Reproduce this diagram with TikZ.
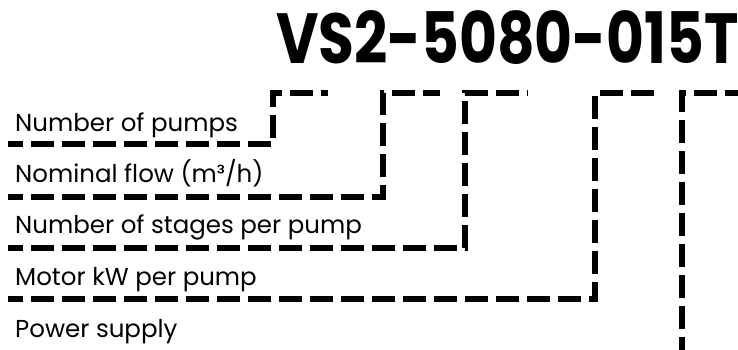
\documentclass[tikz,border=0pt]{standalone}
\usepackage{fontspec}
\setmainfont{Poppins}
\newfontfamily\codefont{Poppins}[FakeStretch=0.82]
\usetikzlibrary{positioning}
\tikzset{
  lbl/.style={anchor=base west, inner sep=0pt, font=\fontsize{24.5}{28}\selectfont},
  code/.style={anchor=base east, inner sep=0pt, font=\codefont\bfseries\fontsize{71}{80}\selectfont},
  lead/.style={line width=5.5pt, dash pattern=on 23pt off 8pt, dash phase=8pt},
}

\begin{document}
\begin{tikzpicture}[x=1pt, y=-1pt]
  \useasboundingbox (0,0) rectangle (738,349);
  % type code
  \node[code] (code) at (739,63) {VS2-5080-015T};
  % labels
  \node[lbl] (pumps) at (15,131) {Number of pumps};
  \node[lbl] (flow) at (15,182) {Nominal flow (m³/h)};
  \node[lbl] (stages) at (15,233) {Number of stages per pump};
  \node[lbl] (motor) at (15,285) {Motor kW per pump};
  \node[lbl] (supply) at (15,337) {Power supply};
  % leader corners
  \coordinate (s1) at (8,144);  \coordinate (k1) at (273,93); \coordinate (t1) at (328,93);
  \coordinate (s2) at (8,197);  \coordinate (k2) at (383,93); \coordinate (t2) at (440,93);
  \coordinate (s3) at (8,248);  \coordinate (k3) at (465,93); \coordinate (t3) at (528,93);
  \coordinate (s4) at (8,299);  \coordinate (k4) at (595,93); \coordinate (t4) at (659,93);
  \coordinate (s5) at (682,352); \coordinate (k5) at (682,93); \coordinate (t5) at (742,93);
  \draw[lead] (s1) -| (k1) -- (t1);
  \draw[lead] (s2) -| (k2) -- (t2);
  \draw[lead] (s3) -| (k3) -- (t3);
  \draw[lead] (s4) -| (k4) -- (t4);
  \draw[lead] (s5) -- (k5) -- (t5);
\end{tikzpicture}
\end{document}
